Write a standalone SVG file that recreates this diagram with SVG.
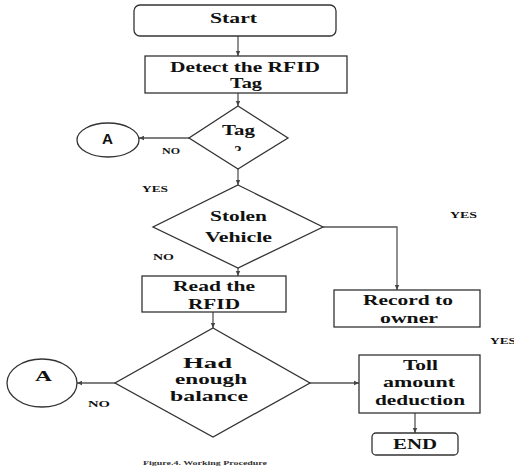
<svg xmlns="http://www.w3.org/2000/svg" width="514" height="470" viewBox="0 0 514 470">
<style>
.box{fill:#fff;stroke:#333;stroke-width:1.3}
.conn{fill:none;stroke:#555;stroke-width:1.3}
.t{font-family:"Liberation Serif","Times New Roman",serif;font-weight:bold;font-size:15px;fill:#111}
.s{font-family:"Liberation Serif","Times New Roman",serif;font-weight:bold;font-size:8px;fill:#111}
.a{font-family:"Liberation Sans",Arial,sans-serif;font-weight:bold;font-size:14px;fill:#111}
.cap{font-family:"Liberation Serif","Times New Roman",serif;font-weight:bold;font-size:6px;fill:#333}
</style>
<defs>
<marker id="ar" markerWidth="6" markerHeight="6" refX="5" refY="3" orient="auto" markerUnits="userSpaceOnUse">
<path d="M0,0.8 L5,3 L0,5.2 z" fill="#444"/>
</marker>
<clipPath id="qclip"><rect x="220" y="135" width="40" height="16"/></clipPath>
</defs>
<rect width="514" height="470" fill="#fff"/>
<g id="connectors">
<line class="conn" x1="238" y1="36" x2="238" y2="56" marker-end="url(#ar)"/>
<line class="conn" x1="238" y1="93" x2="238" y2="106" marker-end="url(#ar)"/>
<line class="conn" x1="189" y1="138" x2="139" y2="138" marker-end="url(#ar)"/>
<line class="conn" x1="238" y1="169" x2="238" y2="185" marker-end="url(#ar)"/>
<polyline class="conn" points="323,227 397,227 397,290" marker-end="url(#ar)"/>
<line class="conn" x1="238" y1="268" x2="238" y2="276" marker-end="url(#ar)"/>
<line class="conn" x1="213" y1="312" x2="213" y2="328" marker-end="url(#ar)"/>
<line class="conn" x1="115" y1="383" x2="77" y2="383" marker-end="url(#ar)"/>
<line class="conn" x1="310" y1="383" x2="359" y2="383" marker-end="url(#ar)"/>
<line class="conn" x1="415" y1="413" x2="415" y2="433" marker-end="url(#ar)"/>
</g>
<g id="start">
<rect class="box" x="134" y="5" width="202" height="31" rx="6"/>
<text class="t" x="210" y="23" textLength="47" lengthAdjust="spacingAndGlyphs">Start</text>
</g>
<g id="detect">
<rect class="box" x="145" y="56" width="202" height="37"/>
<text class="t" x="170" y="72" textLength="150" lengthAdjust="spacingAndGlyphs">Detect the RFID</text>
<text class="t" x="230" y="88" textLength="32" lengthAdjust="spacingAndGlyphs">Tag</text>
</g>
<g id="tagq">
<polygon class="box" points="238,106 288,138 238,169 189,138"/>
<text class="t" x="222" y="135" textLength="33" lengthAdjust="spacingAndGlyphs">Tag</text>
<text class="t" x="238" y="156" text-anchor="middle" clip-path="url(#qclip)">?</text>
</g>
<g id="a1">
<ellipse class="box" cx="108" cy="140" rx="31" ry="17"/>
<text class="a" x="102" y="144" textLength="11" lengthAdjust="spacingAndGlyphs">A</text>
</g>
<g id="stolen">
<polygon class="box" points="238,185 323,227 238,268 153,227"/>
<text class="t" x="210" y="221" textLength="57" lengthAdjust="spacingAndGlyphs">Stolen</text>
<text class="t" x="205" y="242" textLength="67" lengthAdjust="spacingAndGlyphs">Vehicle</text>
</g>
<g id="read">
<rect class="box" x="142" y="276" width="144" height="36"/>
<text class="t" x="173" y="291" textLength="82" lengthAdjust="spacingAndGlyphs">Read the</text>
<text class="t" x="188" y="309" textLength="52" lengthAdjust="spacingAndGlyphs">RFID</text>
</g>
<g id="record">
<rect class="box" x="334" y="290" width="146" height="37"/>
<text class="t" x="363" y="305" textLength="90" lengthAdjust="spacingAndGlyphs">Record to</text>
<text class="t" x="380" y="323" textLength="58" lengthAdjust="spacingAndGlyphs">owner</text>
</g>
<g id="balance">
<polygon class="box" points="213,328 310,383 213,437 115,383"/>
<text class="t" x="183" y="368" textLength="49" lengthAdjust="spacingAndGlyphs">Had</text>
<text class="t" x="175" y="384" textLength="72" lengthAdjust="spacingAndGlyphs">enough</text>
<text class="t" x="170" y="401" textLength="78" lengthAdjust="spacingAndGlyphs">balance</text>
</g>
<g id="a2">
<ellipse class="box" cx="42" cy="383" rx="35" ry="24"/>
<text class="t" x="35" y="381" textLength="17" lengthAdjust="spacingAndGlyphs">A</text>
</g>
<g id="toll">
<rect class="box" x="359" y="355" width="121" height="58"/>
<text class="t" x="403" y="370" textLength="35" lengthAdjust="spacingAndGlyphs">Toll</text>
<text class="t" x="383" y="387" textLength="72" lengthAdjust="spacingAndGlyphs">amount</text>
<text class="t" x="375" y="405" textLength="90" lengthAdjust="spacingAndGlyphs">deduction</text>
</g>
<g id="end">
<rect class="box" x="372" y="433" width="86" height="22" rx="4"/>
<text class="t" x="393" y="449" textLength="44" lengthAdjust="spacingAndGlyphs">END</text>
</g>
<g id="labels">
<text class="s" x="162" y="154" textLength="18" lengthAdjust="spacingAndGlyphs">NO</text>
<text class="s" x="142" y="192" textLength="26" lengthAdjust="spacingAndGlyphs">YES</text>
<text class="s" x="450" y="218" textLength="27" lengthAdjust="spacingAndGlyphs">YES</text>
<text class="s" x="153" y="260" textLength="21" lengthAdjust="spacingAndGlyphs">NO</text>
<text class="s" x="490" y="344" textLength="26" lengthAdjust="spacingAndGlyphs">YES</text>
<text class="s" x="88" y="407" textLength="22" lengthAdjust="spacingAndGlyphs">NO</text>
<text class="cap" x="143" y="465" textLength="124" lengthAdjust="spacingAndGlyphs">Figure.4. Working Procedure</text>
</g>
</svg>
